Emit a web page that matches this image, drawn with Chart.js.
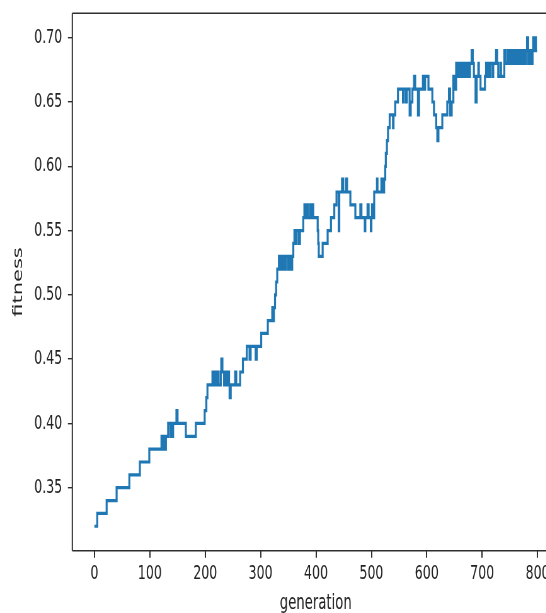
<!DOCTYPE html>
<html>
<head>
<meta charset="utf-8">
<script src="https://cdn.jsdelivr.net/npm/chart.js@4/dist/chart.umd.min.js"></script>
<style>
  html, body { margin: 0; padding: 0; overflow: hidden; background: #fff; }
  /* the reference is a squeezed matplotlib figure, so draw wide and squeeze it the same way */
  #wrap { width: 892px; height: 613px; transform: scaleX(0.63); transform-origin: 0 0; }
</style>
</head>
<body>
<div id="wrap"><canvas id="fitChart" width="892" height="613"></canvas></div>
<script>
// generation where the best fitness changes, and the value from there on
const generations = [0,5,22,40,63,82,99,121,124,125,128,129,133,137,139,141,142,148,150,165,183,199,202,204,
  213,215,217,219,222,224,228,229,231,234,236,238,241,243,244,246,254,256,263,268,275,280,282,291,293,301,
  313,321,322,324,326,328,330,333,336,337,339,341,344,346,350,353,355,357,359,361,364,365,369,371,377,379,
  381,383,385,389,391,393,395,403,404,405,412,421,427,433,437,441,442,447,449,454,456,462,471,480,482,488,
  489,493,495,499,500,501,503,505,510,511,518,520,523,525,526,528,530,533,539,540,543,548,557,558,562,564,
  569,571,574,577,579,584,586,593,595,597,603,610,613,617,619,621,628,637,640,642,645,648,651,653,656,657,
  660,662,665,666,669,670,673,674,677,678,681,683,685,688,690,693,694,697,705,707,710,711,714,715,719,720,
  725,727,729,733,734,740,741,745,746,748,749,751,753,755,756,758,760,762,763,765,767,769,770,772,774,776,
  777,779,781,783,785,786,788,789,791,792,793,795,797,799];
const fitness = [0.32,0.33,0.34,0.35,0.36,0.37,0.38,0.39,0.38,0.39,0.38,0.39,0.40,0.39,0.40,0.39,0.40,0.41,0.40,0.39,0.40,0.41,0.42,0.43,
  0.44,0.43,0.44,0.43,0.44,0.43,0.44,0.45,0.44,0.43,0.44,0.43,0.44,0.43,0.42,0.43,0.44,0.43,0.44,0.45,0.46,0.45,0.46,0.45,0.46,0.47,
  0.48,0.49,0.48,0.49,0.50,0.51,0.52,0.53,0.52,0.53,0.52,0.53,0.52,0.53,0.52,0.53,0.52,0.53,0.54,0.55,0.54,0.55,0.54,0.55,0.56,0.57,
  0.56,0.57,0.56,0.57,0.56,0.57,0.56,0.55,0.54,0.53,0.54,0.55,0.56,0.57,0.58,0.55,0.58,0.59,0.58,0.59,0.58,0.57,0.56,0.57,0.56,0.55,
  0.56,0.57,0.56,0.55,0.56,0.57,0.56,0.58,0.59,0.58,0.59,0.58,0.59,0.60,0.61,0.62,0.63,0.64,0.63,0.64,0.65,0.66,0.65,0.66,0.65,0.66,
  0.64,0.65,0.66,0.67,0.66,0.64,0.66,0.67,0.66,0.67,0.66,0.65,0.64,0.63,0.62,0.63,0.64,0.65,0.66,0.64,0.65,0.67,0.66,0.68,0.67,0.68,
  0.67,0.68,0.67,0.68,0.67,0.68,0.67,0.68,0.67,0.68,0.69,0.68,0.67,0.65,0.67,0.68,0.67,0.66,0.67,0.68,0.67,0.68,0.67,0.68,0.67,0.68,
  0.69,0.68,0.67,0.68,0.67,0.69,0.68,0.69,0.68,0.69,0.68,0.69,0.68,0.69,0.68,0.69,0.68,0.69,0.68,0.69,0.68,0.69,0.68,0.69,0.68,0.69,
  0.68,0.69,0.70,0.68,0.69,0.68,0.69,0.68,0.69,0.70,0.69,0.70,0.69,0.69];
const xTicks = [0,100,200,300,400,500,600,700,800];
const yTicks = [0.35,0.40,0.45,0.50,0.55,0.60,0.65,0.70];

const ink = '#222';
const spine = '#2e2e2e';

// matplotlib style box round the plot
const framePlugin = {
  id: 'frame',
  afterDraw(chart) {
    const { ctx, chartArea: a } = chart;
    ctx.save();
    ctx.strokeStyle = spine;
    ctx.lineWidth = 1.4;
    ctx.beginPath();
    ctx.moveTo(a.left, a.top); ctx.lineTo(a.right, a.top);
    ctx.moveTo(a.left, a.bottom); ctx.lineTo(a.right, a.bottom);
    ctx.stroke();
    ctx.lineWidth = 2;
    ctx.beginPath();
    ctx.moveTo(a.left, a.top); ctx.lineTo(a.left, a.bottom);
    ctx.moveTo(a.right, a.top); ctx.lineTo(a.right, a.bottom);
    ctx.stroke();
    ctx.restore();
  }
};

new Chart(document.getElementById('fitChart'), {
  type: 'line',
  data: {
    datasets: [{
      data: generations.map((g, i) => ({ x: g, y: fitness[i] })),
      borderColor: '#1f77b4',
      borderWidth: 3.2,
      pointRadius: 0,
      stepped: 'before',
      fill: false
    }]
  },
  options: {
    responsive: false,
    animation: false,
    devicePixelRatio: 1,
    layout: { padding: { left: 0, top: 13.3, right: 4.5, bottom: 0 } },
    plugins: { legend: { display: false }, tooltip: { enabled: false } },
    scales: {
      x: {
        type: 'linear',
        min: -39.95,
        max: 838.95,
        afterFit: s => { s.height = 62.3; s.paddingLeft = 0; s.paddingRight = 0; },
        afterBuildTicks: s => { s.ticks = xTicks.map(v => ({ value: v })); },
        border: { display: false },
        grid: { drawOnChartArea: false, drawTicks: true, tickLength: 7, color: spine, lineWidth: 2 },
        ticks: { color: ink, padding: 4, maxRotation: 0, font: { family: 'DejaVu Sans', size: 20 } },
        title: { display: true, text: 'generation', color: ink, padding: { top: 0, bottom: -3 },
                 font: { family: 'DejaVu Sans', size: 21 } }
      },
      y: {
        min: 0.301,
        max: 0.719,
        afterFit: s => { s.width = 114.8; s.paddingTop = 0; s.paddingBottom = 0; },
        afterBuildTicks: s => { s.ticks = yTicks.map(v => ({ value: v })); },
        border: { display: false },
        grid: { drawOnChartArea: false, drawTicks: true, tickLength: 7, color: spine, lineWidth: 1.4 },
        ticks: { color: ink, padding: 9, font: { family: 'DejaVu Sans', size: 20 },
                 callback: v => v.toFixed(2) },
        title: { display: true, text: 'fitness', color: ink, padding: { top: 17, bottom: 0 },
                 font: { family: 'DejaVu Sans', size: 21 } }
      }
    }
  },
  plugins: [framePlugin]
});
</script>
</body>
</html>
